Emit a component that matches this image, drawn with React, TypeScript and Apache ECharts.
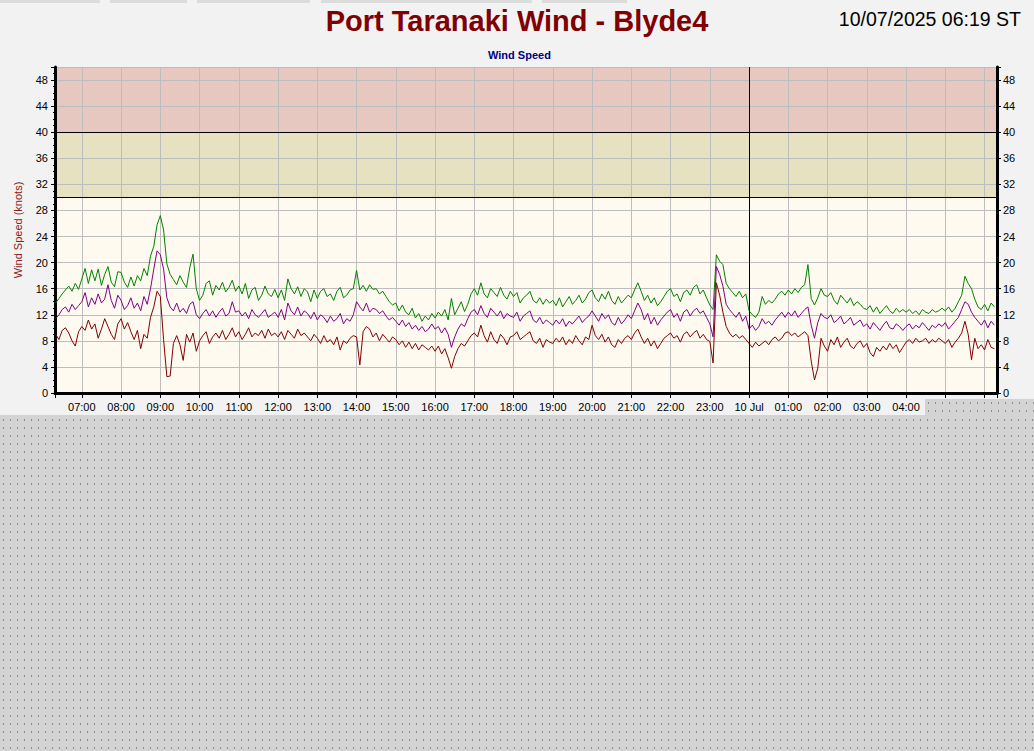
import React, { useEffect, useRef } from "react";
import * as echarts from "echarts";

// ---- time frame ----
const startTime = Date.UTC(2025, 6, 9, 6, 20);
const stepMinutes = 5;
const axisStart = Date.UTC(2025, 6, 9, 6, 19);
const axisEnd = Date.UTC(2025, 6, 10, 6, 19);
const dayBreak = Date.UTC(2025, 6, 10, 0, 0);
const dayBreakLabel = "10 Jul";

// ---- y axis ----
const yMin = 0;
const yMax = 50;
const yInterval = 4;
const bandLimits = [0, 30, 40, 50];

// ---- texts ----
const titleText = "Port Taranaki Wind - Blyde4";
const stampText = "10/07/2025 06:19 ST";
const subTitle = "Wind Speed";
const yName = "Wind Speed (knots)";

// ---- series values (knots, 5-minute steps from 06:20) ----
const gust = [
  13.8, 14.5, 15.2, 15.8, 16.4, 15.6, 16.8, 15.9,
  17.5, 19.1, 16.8, 18.9, 17.2, 19.0, 16.5, 18.2, 19.4, 17.0, 16.3, 18.6,
  18.5, 17.0, 16.2, 17.8, 16.4, 18.0, 17.2, 19.1, 18.0, 21.0, 22.5, 25.8,
  27.2, 25.0, 19.8, 18.2, 17.4, 16.6, 18.0, 17.0, 16.2, 19.2, 21.3, 16.0,
  14.2, 15.0, 16.8, 17.2, 15.0, 16.5, 15.8, 17.0, 15.5, 16.2, 17.3, 15.6,
  16.4, 15.2, 16.8, 14.5, 15.8, 16.2, 14.2, 15.0, 16.4, 15.2, 14.8, 15.9,
  14.6, 15.8, 14.2, 17.5, 16.0, 15.2, 16.3, 14.8, 16.0, 15.5, 14.0, 15.8,
  14.5, 15.6, 16.0, 14.8, 15.2, 14.2, 15.6, 16.2, 14.6, 15.0, 15.8, 16.0,
  18.8, 15.8, 16.5, 15.6, 16.6, 15.9, 16.0, 15.2, 15.6, 14.8, 14.0, 13.5,
  13.8, 12.6, 13.5, 12.4, 12.0, 13.0, 11.5, 12.2, 11.0, 11.8, 11.2, 12.2,
  11.5, 12.4, 11.8, 12.8, 11.2, 14.5, 12.0, 13.0, 14.0, 12.5, 13.6, 15.2,
  16.0, 15.0, 16.9, 15.2, 14.6, 16.0, 15.4, 14.8, 16.2, 15.0, 14.4, 15.6,
  14.8, 15.4, 13.8, 14.6, 15.0, 15.6, 14.2, 13.8, 14.6, 13.6, 14.4, 13.8,
  14.2, 13.4, 14.6, 13.2, 14.0, 14.8, 13.6, 14.2, 15.0, 13.8, 14.4, 15.4,
  15.8, 14.6, 14.0, 15.2, 14.4, 15.6, 14.2, 13.6, 14.8, 13.8, 14.4, 15.0,
  14.6, 15.8, 16.9, 15.6, 14.2, 15.0, 13.8, 14.6, 13.4, 14.0, 14.8, 15.6,
  16.0, 14.8, 15.2, 14.0, 15.4, 15.8, 15.0, 16.2, 16.6, 15.2, 15.8, 14.6,
  13.5, 12.8, 21.2, 20.2, 19.7, 16.8, 16.0, 15.4, 14.8, 15.6, 14.6, 15.2,
  12.6, 12.0, 11.6, 12.4, 14.8, 13.6, 14.2, 13.8, 14.4, 15.2, 15.6, 15.0,
  15.8, 15.2, 16.0, 15.4, 16.2, 16.6, 19.7, 14.5, 13.5, 14.6, 16.0, 15.0,
  14.8, 15.4, 14.2, 13.6, 15.0, 14.4, 13.8, 14.6, 13.4, 14.0, 13.6, 13.0,
  12.8, 13.4, 12.4, 13.2, 12.2, 12.8, 13.4, 12.6, 12.2, 13.0, 12.4, 12.8,
  12.4, 12.8, 12.2, 12.6, 12.0, 12.8, 12.4, 12.2, 12.8, 12.4, 12.6, 13.0,
  12.6, 13.2, 12.4, 13.0, 14.0, 15.0, 17.9, 16.8, 16.0, 14.4, 13.2, 12.8,
  13.6, 12.6, 13.8, 13.2,
];

const mean = [
  11.4, 12.0, 12.8, 13.2, 12.4, 13.6, 12.8, 13.4,
  14.0, 15.4, 13.2, 14.6, 13.6, 15.2, 13.8, 14.4, 16.6, 14.2, 13.0, 15.0,
  14.2, 12.8, 13.4, 14.6, 13.0, 13.8, 12.6, 14.8, 13.6, 16.0, 19.0, 21.8,
  21.2, 19.0, 14.6, 13.2, 12.6, 13.8, 12.4, 13.0, 12.2, 13.6, 14.0, 12.0,
  11.4, 12.2, 12.8, 11.8, 12.6, 11.6, 12.4, 13.0, 11.8, 12.2, 14.0, 12.4,
  12.6, 11.8, 12.4, 11.4, 12.8, 12.0, 11.6, 12.2, 12.8, 11.6, 12.0, 12.4,
  11.6, 12.8, 11.2, 13.8, 12.6, 12.0, 13.2, 11.8, 12.6, 12.2, 11.4, 12.4,
  11.2, 12.0, 11.6, 10.8, 11.8, 11.0, 11.4, 12.2, 10.6, 11.4, 11.0, 12.0,
  14.0, 13.2, 12.6, 13.8, 12.4, 13.0, 12.8, 12.2, 12.6, 11.8, 11.2, 11.6,
  11.0, 10.4, 11.2, 10.2, 10.8, 9.8, 10.4, 9.6, 10.2, 9.4, 9.8, 10.6,
  9.8, 10.2, 9.2, 10.0, 9.0, 7.0, 8.6, 9.8, 10.6, 10.2, 11.4, 12.4,
  12.8, 12.0, 13.4, 12.2, 11.6, 13.0, 12.4, 11.8, 12.6, 11.4, 12.2, 11.8,
  11.6, 12.4, 11.0, 11.8, 12.2, 12.6, 11.2, 10.8, 11.6, 10.6, 11.2, 10.8,
  10.4, 11.2, 10.6, 11.4, 10.2, 11.0, 10.6, 11.2, 11.8, 10.8, 11.4, 11.8,
  12.6, 11.8, 11.0, 12.2, 11.4, 12.0, 10.8, 10.4, 11.6, 10.6, 11.2, 12.0,
  11.4, 12.6, 13.8, 12.8, 11.2, 12.2, 10.6, 11.6, 10.4, 11.2, 11.8, 12.4,
  12.8, 11.6, 12.2, 11.0, 12.4, 12.8, 11.8, 12.6, 13.0, 12.2, 12.6, 11.6,
  10.6, 8.6, 19.4, 18.2, 16.4, 13.6, 12.8, 12.2, 11.6, 12.4, 11.0, 11.8,
  9.8, 10.4, 9.6, 10.2, 11.4, 10.6, 11.0, 10.4, 11.2, 11.8, 12.4, 11.6,
  12.4, 11.8, 12.6, 11.6, 12.2, 12.8, 13.2, 10.4, 8.4, 10.8, 12.2, 11.6,
  11.4, 12.0, 10.8, 11.2, 11.8, 10.6, 11.0, 11.6, 10.4, 10.8, 11.2, 10.2,
  10.6, 9.8, 10.8, 10.2, 9.6, 10.4, 11.0, 10.0, 9.8, 10.6, 10.2, 9.6,
  10.2, 10.6, 9.8, 10.4, 10.0, 10.8, 10.2, 9.6, 10.4, 10.0, 10.6, 10.2,
  10.8, 9.8, 10.4, 11.0, 11.6, 12.8, 14.0, 13.6, 12.4, 11.6, 11.0, 10.4,
  11.2, 10.0, 11.0, 10.4,
];

const lull = [
  9.0, 8.2, 9.6, 10.0, 9.2, 8.0, 7.2, 9.4,
  10.2, 9.6, 11.2, 9.8, 10.6, 8.4, 9.8, 11.4, 10.2, 9.0, 8.2, 10.6,
  11.4, 9.8, 10.8, 9.4, 8.2, 9.6, 6.8, 9.0, 8.4, 11.6, 13.2, 15.6,
  14.8, 8.2, 2.5, 2.6, 7.6, 8.8, 7.4, 5.0, 9.0, 7.8, 9.2, 6.4,
  8.0, 8.8, 9.4, 7.6, 8.6, 9.2, 8.4, 9.6, 8.2, 9.0, 10.0, 8.6,
  9.4, 8.2, 9.0, 10.0, 8.6, 9.2, 8.8, 9.6, 8.4, 9.8, 8.8, 9.2,
  8.6, 9.4, 8.2, 9.6, 9.0, 8.4, 9.8, 8.8, 9.2, 8.6, 8.0, 9.0,
  8.4, 7.6, 8.8, 7.8, 8.2, 7.4, 8.6, 6.6, 8.0, 7.6, 8.4, 8.8,
  8.6, 4.3, 9.4, 10.2, 9.8, 8.6, 9.2, 8.0, 9.0, 8.4, 7.8, 8.6,
  8.2, 7.4, 8.0, 7.0, 7.8, 6.8, 7.6, 6.6, 7.4, 7.0, 6.6, 7.2,
  6.4, 7.2, 6.0, 6.8, 5.4, 3.8, 5.6, 6.8, 7.6, 7.2, 8.0, 8.8,
  9.2, 8.6, 10.4, 8.8, 7.8, 9.4, 8.2, 7.6, 9.0, 8.4, 7.4, 8.6,
  8.8, 9.4, 8.2, 8.6, 9.0, 9.4, 8.0, 7.6, 8.4, 7.0, 8.2, 7.8,
  7.6, 8.4, 7.8, 8.6, 7.4, 8.2, 7.6, 8.8, 8.0, 7.4, 8.6, 8.2,
  10.4, 8.8, 8.2, 9.0, 7.8, 8.6, 7.4, 7.0, 8.2, 7.6, 8.4, 8.8,
  8.2, 9.2, 9.8, 8.6, 7.6, 8.4, 7.2, 8.0, 6.8, 7.6, 8.4, 8.8,
  9.2, 8.4, 8.8, 7.8, 9.0, 9.4, 8.6, 9.2, 9.6, 8.4, 9.0, 8.2,
  7.9, 4.6, 16.9, 15.0, 12.4, 10.2, 9.2, 8.6, 9.0, 8.4, 8.8, 8.2,
  7.6, 7.0, 7.8, 7.2, 7.6, 8.0, 7.4, 8.2, 8.6, 8.0, 8.4, 9.2,
  9.4, 8.8, 9.2, 8.6, 9.0, 9.4, 8.8, 4.9, 2.0, 3.8, 8.4, 7.2,
  6.4, 8.2, 7.4, 8.6, 7.0, 7.8, 8.4, 7.2, 6.8, 7.6, 8.0, 7.0,
  7.6, 6.2, 5.6, 7.0, 6.4, 7.2, 6.6, 7.6, 6.8, 7.4, 6.2, 7.0,
  7.8, 8.2, 7.6, 8.4, 7.8, 8.0, 8.4, 7.6, 8.2, 7.8, 8.4, 8.0,
  7.6, 8.2, 7.0, 7.8, 8.4, 9.2, 11.0, 9.0, 5.1, 8.4, 6.8, 7.4,
  6.6, 8.2, 7.0, 6.8,
];

const toPoints = (vals: number[]) =>
  vals.map((v, i) => [startTime + i * stepMinutes * 60000, v]);

const pad = (n: number) => (n < 10 ? "0" + n : "" + n);
const fontFamily = 'Arial, "Liberation Sans", sans-serif';

function buildOption() {
  const bandColors = ["#FFFAF0", "#E6E1C1", "#E6C8C1"];
  const markAreaData = bandColors.map((c, i) => [
    { yAxis: bandLimits[i], itemStyle: { color: c } },
    { yAxis: bandLimits[i + 1] },
  ]);
  const axisText = { color: "#000", fontSize: 11, fontFamily };
  return {
    animation: false,
    useUTC: true,
    backgroundColor: "transparent",
    title: [
      {
        text: titleText,
        left: "center",
        top: 1,
        textStyle: { fontSize: 29, fontWeight: "bold", color: "#800000", fontFamily },
      },
      {
        text: stampText,
        right: 8,
        top: 4,
        textStyle: { fontSize: 19.5, fontWeight: "normal", color: "#000", fontFamily },
      },
      {
        text: subTitle,
        left: 483,
        top: 44,
        textStyle: { fontSize: 11, fontWeight: "bold", color: "#000080", fontFamily },
      },
    ],
    grid: { left: 55, top: 67, width: 942, height: 326, show: true, backgroundColor: "#FFFAF0", borderWidth: 0 },
    xAxis: [
      {
        type: "time",
        min: axisStart,
        max: axisEnd,
        minInterval: 3600000,
        maxInterval: 3600000,
        splitNumber: 24,
        z: 2,
        axisLine: { show: true, lineStyle: { color: "#000", width: 3 } },
        axisTick: { show: true, length: 5, lineStyle: { color: "#000" } },
        minorTick: { show: true, splitNumber: 6, length: 2, lineStyle: { color: "#000" } },
        splitLine: { show: true, lineStyle: { color: "#bdbdbd", width: 1 } },
        axisLabel: {
          ...axisText,
          margin: 8,
          showMinLabel: false,
          showMaxLabel: false,
          hideOverlap: false,
          formatter: (val: number) => {
            const d = new Date(val);
            if (val === dayBreak) return dayBreakLabel;
            return pad(d.getUTCHours()) + ":" + pad(d.getUTCMinutes());
          },
        },
      },
      {
        type: "value",
        position: "top",
        min: 0,
        max: 1,
        z: 2,
        axisLine: { show: true, lineStyle: { color: "#000", width: 1 } },
        axisTick: { show: false },
        axisLabel: { show: false },
        splitLine: { show: false },
      },
    ],
    yAxis: [
      {
        type: "value",
        min: yMin,
        max: yMax,
        interval: yInterval,
        z: 2,
        name: yName,
        nameLocation: "middle",
        nameRotate: 90,
        nameGap: 32,
        nameTextStyle: { color: "#8B1A1A", fontSize: 11, fontFamily },
        axisLine: { show: true, lineStyle: { color: "#000", width: 3 } },
        axisTick: { show: true, length: 4, lineStyle: { color: "#000" } },
        minorTick: { show: true, splitNumber: 4, length: 2, lineStyle: { color: "#000" } },
        splitLine: { show: true, lineStyle: { color: "#bdbdbd", width: 1 } },
        axisLabel: { ...axisText, margin: 7, showMaxLabel: false },
      },
      {
        type: "value",
        position: "right",
        min: yMin,
        max: yMax,
        interval: yInterval,
        z: 2,
        axisLine: { show: true, lineStyle: { color: "#000", width: 3 } },
        axisTick: { show: true, length: 4, lineStyle: { color: "#000" } },
        minorTick: { show: true, splitNumber: 4, length: 2, lineStyle: { color: "#000" } },
        splitLine: { show: false },
        axisLabel: { ...axisText, margin: 6, showMaxLabel: false },
      },
    ],
    series: [
      {
        name: "bands",
        type: "line",
        data: [],
        z: 1,
        silent: true,
        markArea: { silent: true, z: 1, data: markAreaData },
      },
      {
        name: "Gust",
        type: "line",
        data: toPoints(gust),
        z: 3,
        symbol: "none",
        lineStyle: { color: "#008000", width: 1 },
        itemStyle: { color: "#008000" },
        markLine: {
          silent: true,
          symbol: "none",
          label: { show: false },
          lineStyle: { color: "#000", width: 1, type: "solid" },
          data: [{ yAxis: bandLimits[1] }, { yAxis: bandLimits[2] }, { xAxis: dayBreak }],
        },
      },
      {
        name: "Lull",
        type: "line",
        data: toPoints(lull),
        z: 3,
        symbol: "none",
        lineStyle: { color: "#800000", width: 1 },
        itemStyle: { color: "#800000" },
      },
      {
        name: "Mean",
        type: "line",
        data: toPoints(mean),
        z: 3,
        symbol: "none",
        lineStyle: { color: "#800080", width: 1 },
        itemStyle: { color: "#800080" },
      },
    ],
  };
}

const dots = {
  backgroundColor: "#d3d3d3",
  backgroundImage: "radial-gradient(circle, #8c8c8c 0.8px, transparent 1.1px)",
  backgroundSize: "7px 8px",
};

export default function App() {
  const ref = useRef<HTMLDivElement>(null);
  useEffect(() => {
    document.body.style.margin = "0";
    const chart = echarts.init(ref.current as HTMLDivElement, null, { renderer: "svg" });
    chart.setOption(buildOption() as any);
    return () => chart.dispose();
  }, []);
  const tab = (left: number, width: number) => (
    <div style={{ position: "absolute", left, top: 0, width, height: 3, background: "#dcdcdc" }} />
  );
  return (
    <div style={{ position: "relative", width: 1034, height: 751, overflow: "hidden", ...dots }}>
      <div style={{ position: "absolute", left: 0, top: 0, width: 1034, height: 399, background: "#f2f2f2" }} />
      <div style={{ position: "absolute", left: 0, top: 399, width: 927, height: 16, background: "#f2f2f2" }} />
      {tab(0, 100)}
      {tab(110, 77)}
      {tab(197, 113)}
      {tab(321, 211)}
      {tab(542, 85)}
      <div ref={ref} style={{ position: "absolute", left: 0, top: 0, width: 1034, height: 751 }} />
      <div style={{ position: "absolute", left: 925, top: 399, width: 109, height: 16, ...dots }} />
    </div>
  );
}
